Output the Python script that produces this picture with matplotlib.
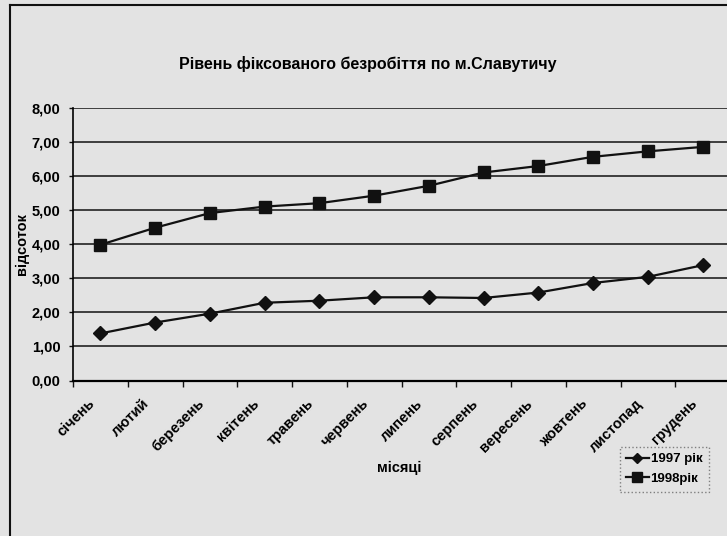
import matplotlib
matplotlib.use("Agg")
import matplotlib.pyplot as plt
import matplotlib.transforms as mtransforms
from matplotlib.lines import Line2D
import numpy as np

plt.rcParams["font.family"] = ["Liberation Sans", "DejaVu Sans"]
plt.rcParams["font.weight"] = "bold"

months = ["січень", "лютий", "березень", "квітень", "травень", "червень",
          "липень", "серпень", "вересень", "жовтень", "листопад", "грудень"]
rate_1997 = [1.38, 1.70, 1.96, 2.28, 2.34, 2.44, 2.44, 2.42, 2.58, 2.86, 3.04, 3.38]
rate_1998 = [3.98, 4.48, 4.91, 5.10, 5.20, 5.42, 5.71, 6.10, 6.29, 6.56, 6.72, 6.85]
y_ticks = [0, 1, 2, 3, 4, 5, 6, 7, 8]

BG = "#e3e3e3"
INK = "#111111"

fig = plt.figure(figsize=(7.27, 5.36), dpi=100, facecolor=BG)
ax = fig.add_axes([73 / 727, 1 - 380.5 / 536, 657 / 727, 272.8 / 536])
ax.set_facecolor(BG)

x = np.arange(len(months))
ax.plot(x, rate_1997, color=INK, lw=1.6, marker="D", ms=7, mfc=INK, mec=INK,
        label="1997 рік", zorder=3)
ax.plot(x, rate_1998, color=INK, lw=1.6, marker="s", ms=8.5, mfc=INK, mec=INK,
        label="1998рік", zorder=3)

ax.set_xlim(-0.5, len(months) - 0.5)
ax.set_ylim(0, 8)
ax.set_yticks(y_ticks)
ax.set_yticklabels([f"{v:.2f}".replace(".", ",") for v in y_ticks], fontsize=10.5,
                   fontweight="bold")
for v in y_ticks[1:]:
    ax.axhline(v, color="#222222", lw=1.2, zorder=1)

# month labels, rotated, anchored a little left of each category centre
ax.set_xticks(np.arange(-0.5, len(months), 1))
ax.set_xticklabels([])
ax.tick_params(axis="x", length=4, width=1, color=INK)
ax.tick_params(axis="y", length=3, width=1, pad=6, color=INK)
shift = mtransforms.ScaledTranslation(-13 / 100, -16 / 100, fig.dpi_scale_trans)
base = mtransforms.blended_transform_factory(ax.transData, ax.transAxes)
for i, m in enumerate(months):
    ax.text(i, 0, m, rotation=45, ha="right", va="top", rotation_mode="anchor",
            fontsize=10.5, fontweight="bold", transform=base + shift, clip_on=False)

for side in ["top", "right"]:
    ax.spines[side].set_visible(False)
ax.spines["left"].set_linewidth(1.2)
ax.spines["bottom"].set_linewidth(1.6)

fig.text(22 / 727, 1 - 244 / 536, "відсоток", rotation=90, ha="center", va="center",
         fontsize=10.5, fontweight="bold")
fig.text(399 / 727, 1 - 468 / 536, "місяці", ha="center", va="center",
         fontsize=10.5, fontweight="bold")
fig.text(368 / 727, 1 - 64 / 536, "Рівень фіксованого безробіття по м.Славутичу",
         ha="center", va="center", fontsize=11.5, fontweight="bold")

leg = fig.legend(loc="upper left", bbox_to_anchor=(613 / 727, 1 - 440 / 536),
                 fontsize=9.5, handlelength=1.7, handletextpad=0.15, labelspacing=0.55,
                 markerscale=0.8, frameon=True, fancybox=False, borderpad=0.5)
leg.get_frame().set_facecolor(BG)
leg.get_frame().set_edgecolor("#666666")
leg.get_frame().set_linestyle(":")
for t in leg.get_texts():
    t.set_fontweight("bold")

# scan frame
fig.add_artist(Line2D([10 / 727, 10 / 727], [0, 1 - 5 / 536], color=INK, lw=1.5))
fig.add_artist(Line2D([10 / 727, 1], [1 - 5 / 536, 1 - 5 / 536], color=INK, lw=1.5))

fig.savefig("out.png", dpi=100, facecolor=BG)
